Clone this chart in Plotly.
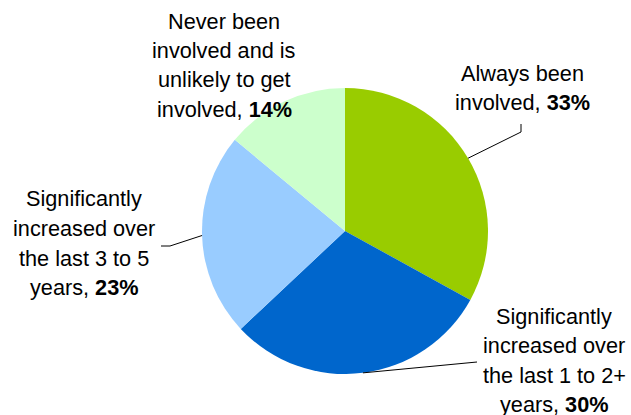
import math
import plotly.graph_objects as go

# ---- data ----
categories = [
    "Always been involved",
    "Significantly increased over the last 1 to 2+ years",
    "Significantly increased over the last 3 to 5 years",
    "Never been involved and is unlikely to get involved",
]
values = [33, 30, 23, 14]
colors = ["#99CC00", "#0066CC", "#99CCFF", "#CCFFCC"]
label_lines = [
    ["Always been", "involved, <b>33%</b>"],
    ["Significantly", "increased over", "the last 1 to 2+", "years, <b>30%</b>"],
    ["Significantly", "increased over", "the last 3 to 5", "years, <b>23%</b>"],
    ["Never been", "involved and is", "unlikely to get", "involved, <b>14%</b>"],
]

# ---- layout (window pixels) ----
W, H = 631, 415
CX, CY, R = 345, 231, 143
label_pos = [  # (center x, first line center y)
    (522, 73),
    (554, 316),
    (84, 199),
    (224, 21),
]
LINE_STEP = 29.5
leader_start = [
    [(521, 124), (521, 132)],
    [(477, 362)],
    [(161, 246), (170, 246)],
    None,
]

def px(x):
    return x / W

def py(y):
    return 1 - y / H

fig = go.Figure(go.Pie(
    labels=categories,
    values=values,
    sort=False,
    direction="clockwise",
    rotation=0,
    marker=dict(colors=colors, line=dict(width=0)),
    textinfo="none",
    hoverinfo="none",
    showlegend=False,
    domain=dict(x=[px(CX - R), px(CX + R)], y=[py(CY + R), py(CY - R)]),
))

annotations = []
for lines, (lx, ly) in zip(label_lines, label_pos):
    for i, t in enumerate(lines):
        annotations.append(dict(
            x=px(lx), y=py(ly + i * LINE_STEP), xref="paper", yref="paper",
            text=t, showarrow=False, xanchor="center", yanchor="middle",
            font=dict(family="Arial, Liberation Sans", size=21.7, color="#000000"),
        ))

shapes = []
total = sum(values)
cum = 0
for v, starts in zip(values, leader_start):
    mid = (cum + v / 2) / total * 2 * math.pi
    cum += v
    if not starts:
        continue
    ex = CX + R * math.sin(mid)
    ey = CY - R * math.cos(mid)
    pts = list(starts) + [(ex, ey)]
    for (x0, y0), (x1, y1) in zip(pts[:-1], pts[1:]):
        shapes.append(dict(
            type="line", xref="paper", yref="paper",
            x0=px(x0), y0=py(y0), x1=px(x1), y1=py(y1),
            line=dict(color="#000000", width=1),
        ))

fig.update_layout(
    width=W, height=H,
    margin=dict(l=0, r=0, t=0, b=0),
    paper_bgcolor="white", plot_bgcolor="white",
    annotations=annotations, shapes=shapes,
)

fig.write_html(
    "out.html",
    config={"displayModeBar": False},
    post_script="document.body.style.margin='0px';document.body.style.overflow='hidden';",
)
